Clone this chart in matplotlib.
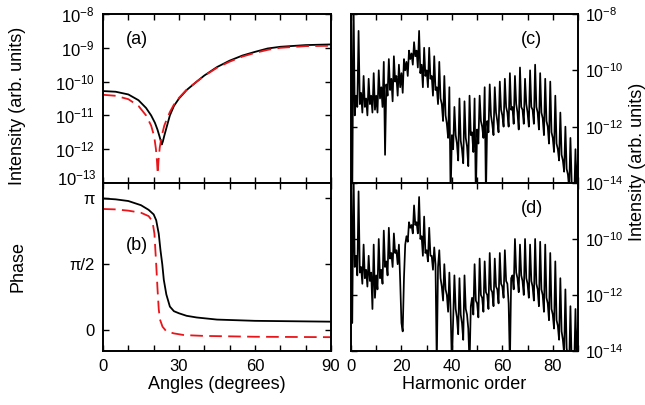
import matplotlib
matplotlib.use("Agg")
import matplotlib.pyplot as plt
import numpy as np
from matplotlib.ticker import MultipleLocator, FixedLocator

plt.rcParams["font.family"] = ["Liberation Sans", "DejaVu Sans"]
plt.rcParams["mathtext.fontset"] = "custom"
plt.rcParams["mathtext.rm"] = "Liberation Sans"

# ---- panel (a): intensity vs angle (log10 values) ----
ang_a_black = [0, 5, 10, 14, 17, 19, 20.5, 21.5, 22.3, 22.9, 23.2, 23.6, 24.2, 25, 26.4, 28, 30,
               33, 37, 40, 45, 50, 55, 60, 65, 70, 80, 90]
logI_a_black = [-10.28, -10.30, -10.38, -10.55, -10.78, -11.0, -11.22, -11.42, -11.62, -11.78, -11.86,
                -11.78, -11.6, -11.38, -11.0, -10.72, -10.5, -10.25, -10.0, -9.82, -9.57, -9.38,
                -9.23, -9.12, -9.02, -8.97, -8.92, -8.9]
ang_a_red = [0, 5, 10, 14, 17, 19, 20.2, 20.9, 21.3, 21.6, 21.9, 22.4, 23.2, 24.2, 25, 26.4, 28, 30,
             33, 37, 40, 45, 50, 55, 60, 65, 70, 80, 90]
logI_a_red = [-10.39, -10.42, -10.52, -10.72, -11.0, -11.3, -11.62, -12.0, -12.35, -12.73, -12.35,
              -11.95, -11.6, -11.3, -11.15, -10.9, -10.68, -10.48, -10.24, -10.0, -9.83, -9.59,
              -9.41, -9.26, -9.15, -9.06, -9.0, -8.95, -8.94]

# ---- panel (b): phase vs angle ----
ang_b_black = [0, 5, 10, 15, 18, 20, 21, 22, 22.7, 23.4, 24, 25, 26.4, 28, 30, 33, 37, 45, 60, 90]
phase_b_black = [3.14, 3.12, 3.08, 2.98, 2.87, 2.76, 2.62, 2.3, 1.9, 1.57, 1.2, 0.85, 0.56,
                 0.45, 0.4, 0.34, 0.3, 0.25, 0.22, 0.2]
ang_b_red = [0, 5, 10, 15, 18, 19.5, 20.3, 21, 21.5, 22, 22.5, 23.5, 25, 28, 32, 40, 60, 90]
phase_b_red = [2.89, 2.88, 2.85, 2.8, 2.72, 2.6, 2.3, 1.57, 1.0, 0.5, 0.25, 0.08, -0.03,
               -0.08, -0.12, -0.14, -0.16, -0.17]

# ---- panels (c) and (d): harmonic spectra, log10 intensity every half order ----
order = np.arange(0, 90.5, 0.5)
logI_c = [
    -7.5, -14.5, -7.5, -11.6, -10.9, -11.3, -8.6, -11.2, -10.8, -11.5,
    -10.2, -11.3, -11.0, -11.6, -10.3, -11.2, -10.9, -11.5, -10.1, -11.4,
    -10.9, -11.5, -10.0, -11.0, -10.6, -11.3, -9.7, -13.0, -10.5, -10.9,
    -9.6, -10.7, -10.3, -11.1, -9.5, -10.4, -10.2, -10.9, -9.8, -10.6,
    -10.1, -10.8, -9.6, -10.0, -9.7, -10.2, -9.3, -9.6, -9.4, -9.8,
    -9.0, -9.5, -9.3, -9.9, -8.6, -10.1, -9.8, -10.6, -9.2, -10.2,
    -10.0, -10.6, -9.2, -10.3, -10.2, -10.9, -9.5, -10.7, -10.6, -11.2,
    -9.7, -11.0, -11.2, -11.8, -10.2, -11.6, -11.9, -12.4, -10.6, -14.5,
    -12.3, -12.8, -11.3, -12.3, -12.6, -13.2, -11.0, -12.5, -12.8, -13.3,
    -11.1, -12.4, -12.7, -13.4, -10.9, -12.3, -12.2, -12.9, -11.0, -14.5,
    -12.1, -12.6, -10.9, -11.8, -12.0, -12.4, -10.6, -14.5, -11.8, -12.2,
    -10.5, -11.6, -11.9, -12.3, -10.6, -11.5, -11.8, -12.2, -10.4, -11.4,
    -11.6, -12.0, -10.3, -11.3, -11.5, -12.0, -10.1, -11.4, -11.3, -11.9,
    -10.2, -11.2, -11.5, -12.1, -9.9, -11.3, -11.4, -11.9, -10.3, -11.2,
    -11.5, -12.0, -10.0, -11.3, -11.4, -11.9, -9.8, -11.3, -11.5, -12.1,
    -10.1, -11.5, -11.7, -12.3, -10.3, -11.8, -12.0, -12.6, -10.4, -12.2,
    -12.4, -12.9, -10.9, -12.6, -12.8, -13.2, -11.5, -13.0, -13.2, -13.6,
    -12.0, -13.5, -13.7, -14.2, -12.4, -14.0, -14.5, -14.5, -12.8, -14.5,
    -13.0,
]
logI_d = [
    -7.5, -13.0, -7.5, -11.0, -10.6, -11.3, -8.3, -11.2, -11.0, -11.6,
    -10.2, -11.4, -11.1, -11.7, -10.6, -11.5, -11.2, -12.5, -10.2, -12.1,
    -11.3, -11.8, -10.0, -11.4, -11.1, -11.6, -9.7, -11.0, -10.8, -11.3,
    -9.6, -10.7, -10.5, -11.0, -9.8, -10.5, -10.4, -10.9, -10.2, -11.5,
    -13.0, -13.3, -11.4, -10.2, -9.9, -10.1, -9.4, -9.6, -9.5, -9.8,
    -8.8, -9.5, -9.4, -9.8, -8.5, -10.0, -9.9, -10.6, -9.2, -10.5,
    -10.4, -10.8, -9.6, -10.6, -10.6, -11.1, -10.3, -10.9, -14.5, -11.0,
    -10.4, -11.4, -11.7, -12.2, -10.9, -11.8, -12.0, -12.6, -11.2, -12.6,
    -14.5, -12.9, -11.3, -12.5, -12.8, -13.4, -11.4, -12.7, -13.0, -13.6,
    -11.3, -12.5, -12.7, -13.2, -14.5, -12.4, -12.1, -12.7, -10.9, -12.2,
    -12.3, -12.8, -10.7, -12.0, -12.1, -12.6, -10.8, -11.9, -12.0, -12.5,
    -10.5, -11.8, -11.9, -12.4, -10.7, -11.7, -11.8, -12.3, -10.5, -11.6,
    -11.7, -12.1, -10.4, -11.5, -11.6, -12.3, -14.5, -11.4, -11.3, -11.8,
    -10.0, -11.2, -11.4, -11.9, -10.2, -11.3, -11.5, -12.0, -10.0, -11.4,
    -11.6, -12.1, -10.2, -11.5, -11.7, -12.2, -10.0, -11.6, -11.8, -12.4,
    -10.1, -11.8, -12.0, -12.6, -10.2, -12.1, -12.3, -12.9, -10.5, -12.5,
    -12.7, -13.2, -10.8, -12.9, -13.1, -13.6, -11.4, -13.3, -13.6, -14.1,
    -11.8, -13.9, -14.2, -14.5, -12.4, -14.5, -14.5, -14.5, -12.5, -14.5,
    -13.0,
]

RED = "#e8161b"
W, H = 645, 405
fig = plt.figure(figsize=(W / 100, H / 100), dpi=100)


def box(x0, y0, x1, y1):
    return [x0 / W, 1 - y1 / H, (x1 - x0) / W, (y1 - y0) / H]


def sci(v, pos=None):
    return r"$\mathdefault{10^{%d}}$" % round(np.log10(v))


ax_a = fig.add_axes(box(103, 14, 331, 183))
ax_b = fig.add_axes(box(103, 183, 331, 351))
ax_c = fig.add_axes(box(351, 14, 578, 183))
ax_d = fig.add_axes(box(351, 183, 578, 351))

for ax in (ax_a, ax_b, ax_c, ax_d):
    for sp in ax.spines.values():
        sp.set_linewidth(1.4)
    ax.tick_params(which="both", direction="in", top=True, right=True, length=4,
                   width=1.0, labelsize=12, pad=6)
    ax.set_xlim(0, 90)

# (a)
ax_a.semilogy(ang_a_black, 10.0 ** np.array(logI_a_black), color="black", lw=1.3)
ax_a.semilogy(ang_a_red, 10.0 ** np.array(logI_a_red), color=RED, lw=1.3, dashes=(7, 3.5))
ax_a.set_ylim(1e-13, 1e-8)
ax_a.yaxis.set_major_locator(FixedLocator([1e-13, 1e-12, 1e-11, 1e-10, 1e-9, 1e-8]))
ax_a.yaxis.set_minor_locator(FixedLocator([]))
ax_a.yaxis.set_major_formatter(plt.FuncFormatter(lambda v, p: "" if v < 2e-13 else sci(v)))
ax_a.annotate(sci(1e-13), xy=(0, 1e-13), xycoords=("axes fraction", "data"),
              xytext=(-4.5, 3), textcoords="offset points", ha="right", va="center", fontsize=12)
ax_a.xaxis.set_major_locator(MultipleLocator(10))
ax_a.tick_params(labelbottom=False)
ax_a.text(0.1, 0.82, "(a)", transform=ax_a.transAxes, fontsize=13)

# (b)
ax_b.plot(ang_b_black, phase_b_black, color="black", lw=1.3)
ax_b.plot(ang_b_red, phase_b_red, color=RED, lw=1.3, dashes=(7, 3.5))
ax_b.set_ylim(-0.5, 3.51)
ax_b.set_yticks([0, np.pi / 2, np.pi])
ax_b.set_yticklabels(["0", "π/2", "π"])
ax_b.xaxis.set_major_locator(MultipleLocator(30))
ax_b.xaxis.set_minor_locator(MultipleLocator(10))
ax_b.tick_params(which="minor", length=4, width=1.0)
ax_b.text(0.1, 0.6, "(b)", transform=ax_b.transAxes, fontsize=13)
ax_b.set_xlabel("Angles (degrees)", fontsize=13, labelpad=1)

# (c) and (d)
for ax, vals, lab in ((ax_c, logI_c, "(c)"), (ax_d, logI_d, "(d)")):
    ax.semilogy(order, 10.0 ** np.array(vals), color="black", lw=1.25)
    ax.set_ylim(1e-14, 1e-8)
    ax.yaxis.set_major_locator(FixedLocator([1e-14, 1e-12, 1e-10, 1e-8]))
    ax.yaxis.set_minor_locator(FixedLocator([]))
    ax.yaxis.set_major_formatter(plt.FuncFormatter(sci))
    ax.tick_params(labelleft=False, labelright=True, labelsize=11.5, pad=5)
    ax.xaxis.set_major_locator(MultipleLocator(20))
    ax.xaxis.set_minor_locator(MultipleLocator(10))
    ax.tick_params(which="minor", length=4, width=1.0)
    ax.text(0.75, 0.82, lab, transform=ax.transAxes, fontsize=13)

ax_c.tick_params(labelbottom=False)
ax_d.yaxis.set_major_formatter(plt.FuncFormatter(lambda v, p: "" if v > 5e-9 else sci(v)))
ax_d.tick_params(axis="x", labelsize=12, pad=6)
ax_d.set_xlabel("Harmonic order", fontsize=13, labelpad=1)

fig.text(18 / W, 1 - 106 / H, "Intensity (arb. units)", rotation=90, fontsize=13,
         ha="center", va="center")
fig.text(18 / W, 1 - 266 / H, "Phase", rotation=90, fontsize=13, ha="center", va="center")
fig.text(637 / W, 1 - 162 / H, "Intensity (arb. units)", rotation=90, fontsize=13,
         ha="center", va="center")

fig.savefig("out.png", dpi=100)
